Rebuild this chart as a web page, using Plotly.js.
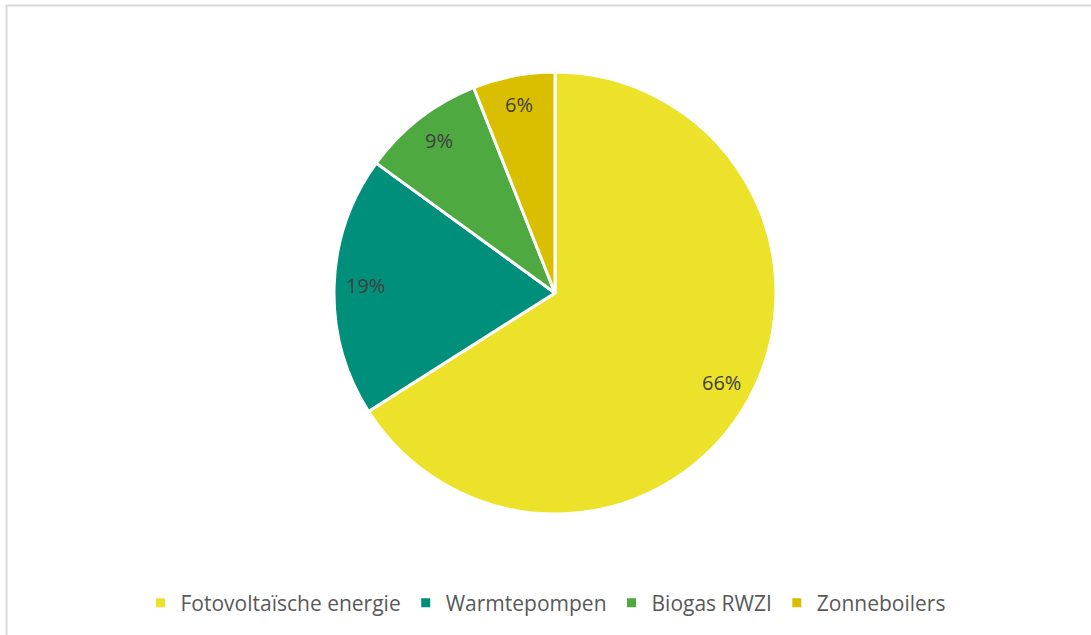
<!DOCTYPE html>
<html>
<head>
<meta charset="utf-8">
<script src="https://cdn.plot.ly/plotly-3.0.1.min.js"></script>
<style>
html,body{margin:0;padding:0;background:#fff;}
#chart{width:1091px;height:635px;}
</style>
</head>
<body>
<div id="chart"></div>
<script>
const labels = ["Fotovoltaïsche energie", "Warmtepompen", "Biogas RWZI", "Zonneboilers"];
const values = [66, 19, 9, 6];
const colors = ["#EDE22A", "#008F7A", "#4EA941", "#DABE00"];

const W = 1091, H = 635;
const cx = 555, cy = 293, R = 221;
const dom = {x: [(cx - R) / W, (cx + R) / W], y: [1 - (cy + R) / H, 1 - (cy - R) / H]};

const trace = {
  type: "pie",
  labels: labels,
  values: values,
  sort: false,
  direction: "clockwise",
  rotation: 0,
  marker: {colors: colors, line: {color: "#ffffff", width: 3}},
  textinfo: "none",
  hoverinfo: "label+percent",
  domain: dom
};

// percentage labels placed near the outer end of each slice (derived from values)
const total = values.reduce((a, b) => a + b, 0);
const annotations = [];
let acc = 0;
values.forEach((v, i) => {
  const midFrac = (acc + v / 2) / total;
  acc += v;
  const ang = Math.PI / 2 - midFrac * 2 * Math.PI;
  const f = 0.86;
  const px = cx + f * R * Math.cos(ang);
  const py = cy - f * R * Math.sin(ang) - 2;
  annotations.push({
    xref: "paper", yref: "paper",
    x: px / W, y: 1 - py / H,
    xanchor: "center", yanchor: "middle",
    text: Math.round(v / total * 100) + "%",
    showarrow: false,
    font: {family: "Open Sans, sans-serif", size: 20, color: "#404040"}
  });
});

const layout = {
  width: W, height: H,
  margin: {l: 0, r: 0, t: 0, b: 0},
  paper_bgcolor: "#ffffff",
  showlegend: true,
  legend: {
    orientation: "h",
    x: 0.5, xanchor: "center",
    y: 1 - 603 / H, yanchor: "middle",
    font: {family: "Open Sans, sans-serif", size: 21, color: "#595959"},
    itemclick: false
  },
  annotations: annotations,
  shapes: [{
    type: "rect", xref: "paper", yref: "paper",
    x0: 6.5 / W, x1: 1.2, y0: -0.2, y1: 1 - 5.5 / H,
    line: {color: "#D9D9D9", width: 2}
  }]
};

Plotly.newPlot("chart", [trace], layout, {displayModeBar: false, staticPlot: true});
</script>
</body>
</html>
